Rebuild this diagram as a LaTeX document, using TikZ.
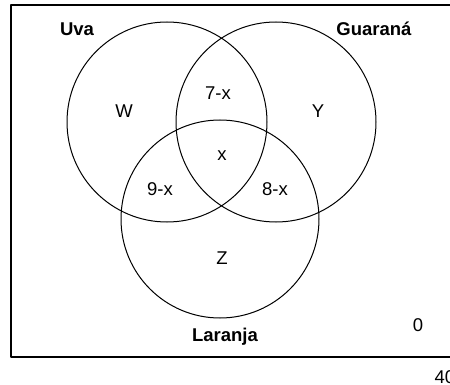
\documentclass[tikz,border=0pt]{standalone}
\usepackage{fontspec}
\setmainfont{Liberation Sans}
\usetikzlibrary{arrows.meta,positioning}
\tikzset{
 conjunto/.style={line width=1pt},
 rotulo/.style={font=\fontsize{18.5}{22}\selectfont\bfseries},
 regiao/.style={font=\fontsize{18.5}{22}\selectfont}
}

\begin{document}
\begin{tikzpicture}[x=1pt,y=-1pt,line cap=round,line join=round]
 \useasboundingbox (0,0) rectangle (450,385);
 \clip (0,0) rectangle (450,385);
 % Universo: caixa que continua para lá da margem direita.
 \draw[line width=2pt] (11,5) rectangle (470,357);
 % Os três conjuntos.
 \draw[conjunto] (167,122) circle(100);
 \draw[conjunto] (276,122) circle(100);
 \draw[conjunto] (220,219) circle(99);
 \node[rotulo] (uva) at (77,29) {Uva};
 \node[rotulo] (guarana) at (374,29) {Guaraná};
 \node[rotulo] (laranja) at (225,337) {Laranja};
 % Contagens em cada região.
 \node[regiao] (w) at (124,111) {W};
 \node[regiao] (uvaguar) at (218,93) {7-x};
 \node[regiao] (y) at (318,111) {Y};
 \node[regiao] (centro) at (222,156) {x};
 \node[regiao] (uvalar) at (160,189) {9-x};
 \node[regiao] (guarlar) at (275,189) {8-x};
 \node[regiao] (z) at (222,258) {Z};
 \node[regiao] (fora) at (418,325) {0};
 \node[regiao,anchor=west] (total) at (431,377) {40};
\end{tikzpicture}
\end{document}
